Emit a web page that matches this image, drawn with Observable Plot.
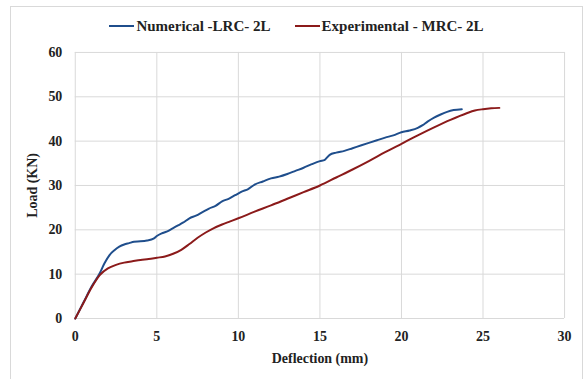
<!DOCTYPE html>
<html>
<head>
<meta charset="utf-8">
<script src="https://cdn.jsdelivr.net/npm/d3@7"></script>
<script src="https://cdn.jsdelivr.net/npm/@observablehq/plot@0.6"></script>
<style>
  html, body { margin: 0; padding: 0; background: #fff; }
  #frame { position: absolute; left: 10px; top: 6px; width: 573px; height: 380px; border: 1px solid #d9d9d9; box-sizing: border-box; background: #fff; }
  #legend { position: absolute; left: 0; top: 5px; width: 100%; height: 28px; display: flex; justify-content: center; align-items: center; gap: 24px; font-family: "Liberation Serif", serif; font-weight: bold; font-size: 15px; color: #222; }
  .item { display: flex; align-items: center; gap: 2px; }
  .sw { display: inline-block; width: 25px; height: 2px; }
  #chart { position: absolute; left: 0; top: 29px; }
</style>
</head>
<body>
<div id="frame">
  <div id="chart"></div>
  <div id="legend"></div>
</div>
<script>
const seriesNames = ["Numerical -LRC- 2L", "Experimental - MRC- 2L"];
const seriesColors = ["#1f4e8c", "#8b1a1a"];

const numX = [0, 0.5, 1, 1.5, 1.8, 2.1, 2.4, 2.7, 3.0, 3.3, 3.6, 4.0, 4.4, 4.8, 5.0, 5.3, 5.6, 6.0, 6.3, 6.6, 7.0, 7.4, 7.8, 8.2, 8.6, 9.0, 9.4, 9.8, 10.2, 10.6, 11.0, 11.5, 12.0, 12.5, 13.0, 13.5, 14.0, 14.5, 15.0, 15.3, 15.6, 16.0, 16.5, 17.0, 17.5, 18.0, 18.5, 19.0, 19.5, 20.0, 20.5, 21.0, 21.3, 21.6, 22.0, 22.4, 22.8, 23.2, 23.7];
const numY = [0, 3.6, 7.2, 10.2, 12.5, 14.3, 15.4, 16.2, 16.7, 17.0, 17.3, 17.4, 17.6, 18.0, 18.6, 19.2, 19.6, 20.4, 21.0, 21.6, 22.6, 23.2, 24.0, 24.8, 25.4, 26.4, 27.0, 27.8, 28.6, 29.2, 30.2, 30.9, 31.6, 32.0, 32.6, 33.3, 34.0, 34.8, 35.5, 35.8, 36.9, 37.4, 37.8, 38.4, 39.0, 39.6, 40.2, 40.8, 41.3, 42.0, 42.4, 43.0, 43.6, 44.4, 45.3, 46.0, 46.6, 47.0, 47.2];

const expX = [0, 0.5, 1, 1.5, 2, 2.5, 3, 3.5, 4, 4.5, 5, 5.5, 6, 6.5, 7, 7.5, 8, 8.5, 9, 9.5, 10, 11, 12, 13, 14, 15, 16, 17, 18, 19, 20, 21, 22, 23, 24, 24.5, 25, 25.5, 26];
const expY = [0, 3.5, 7.0, 9.8, 11.3, 12.1, 12.6, 12.9, 13.2, 13.4, 13.7, 14.0, 14.6, 15.5, 16.8, 18.2, 19.4, 20.4, 21.2, 21.9, 22.6, 24.1, 25.5, 27.0, 28.5, 30.0, 31.8, 33.6, 35.5, 37.5, 39.4, 41.3, 43.1, 44.8, 46.3, 46.9, 47.2, 47.4, 47.5];

const xTicks = [0, 5, 10, 15, 20, 25, 30];
const yTicks = [0, 10, 20, 30, 40, 50, 60];

const data = [
  ...numX.map((x, i) => ({x, y: numY[i], s: seriesNames[0]})),
  ...expX.map((x, i) => ({x, y: expY[i], s: seriesNames[1]}))
];

const legend = document.getElementById("legend");
seriesNames.forEach((n, i) => {
  const d = document.createElement("span");
  d.className = "item";
  d.innerHTML = `<span class="sw" style="background:${seriesColors[i]}"></span><span>${n}</span>`;
  legend.appendChild(d);
});

const chart = Plot.plot({
  width: 573,
  height: 340,
  marginLeft: 64,
  marginRight: 18,
  marginTop: 16,
  marginBottom: 57,
  style: { fontFamily: "Liberation Serif, serif", fontSize: "14px", fontWeight: "bold", color: "#222", background: "transparent" },
  x: { domain: [0, 30], ticks: xTicks, tickSize: 0, tickPadding: 13, label: "Deflection (mm)", labelAnchor: "center", labelOffset: 45 },
  y: { domain: [0, 60], ticks: yTicks, tickSize: 0, tickPadding: 13, label: "Load (KN)", labelAnchor: "center", labelOffset: 48 },
  color: { domain: seriesNames, range: seriesColors },
  marks: [
    Plot.gridX(xTicks, { stroke: "#d9d9d9", strokeOpacity: 1 }),
    Plot.gridY(yTicks, { stroke: "#d9d9d9", strokeOpacity: 1 }),
    Plot.line(data, { x: "x", y: "y", z: "s", stroke: "s", strokeWidth: 2, curve: "monotone-x" })
  ]
});
chart.querySelectorAll("text").forEach(t => {
  t.style.fontWeight = "bold";
  const s = t.textContent;
  if (/[→↑←↓]/.test(s)) t.textContent = s.replace(/\s*[→↑←↓]\s*/g, "").trim();
});
document.getElementById("chart").appendChild(chart);
</script>
</body>
</html>
